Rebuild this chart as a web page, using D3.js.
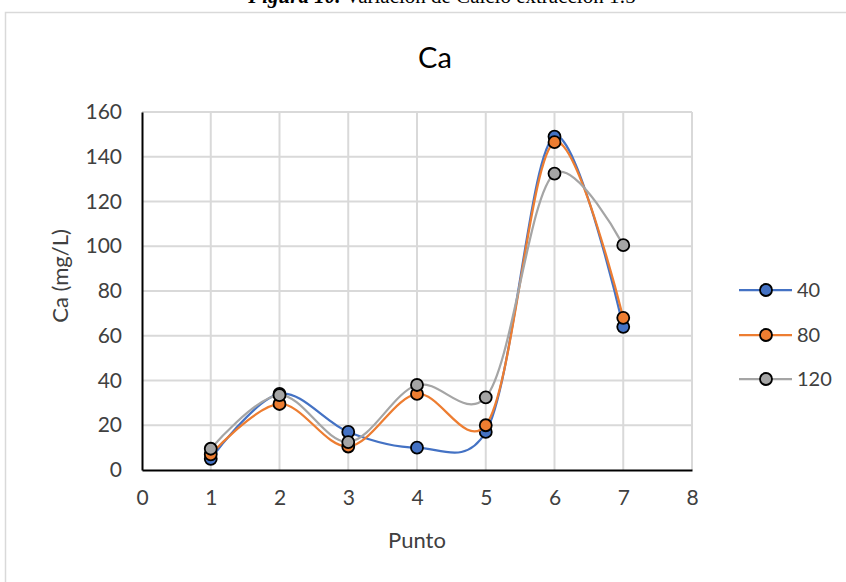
<!DOCTYPE html>
<html>
<head>
<meta charset="utf-8">
<script src="https://cdn.jsdelivr.net/npm/d3@7"></script>
<style>
    body { margin: 0; background: #fff; }
    svg { display: block; font-family: Lato, "Open Sans", sans-serif; }
</style>
</head>
<body>
<div id="chart"></div>
<script>
// Ca data (Excel scatter, smoothed lines)
const puntos = [1, 2, 3, 4, 5, 6, 7];
const seriesNames = ['40', '80', '120'];
const ca40 = [5, 34, 17, 10, 17, 149, 64];
const ca80 = [7, 29.5, 10.5, 34, 20, 146.5, 68];
const ca120 = [9.5, 33.5, 12.5, 38, 32.5, 132.5, 100.5];
const xTicks = [0, 1, 2, 3, 4, 5, 6, 7, 8];
const yTicks = [0, 20, 40, 60, 80, 100, 120, 140, 160];
const colors = ['#4472c4', '#ed7d31', '#a5a5a5'];

const width = 846, height = 582;
const margin = {top: 112, left: 142, right: 154, bottom: 112};

const svg = d3.select('#chart').append('svg')
    .attr('width', width)
    .attr('height', height);

// caption of the document, cut off at the top of the picture
const caption = svg.append('text')
    .attr('x', 442)
    .attr('y', 3)
    .attr('text-anchor', 'middle')
    .style('font-family', '"Liberation Serif", "Times New Roman", serif')
    .style('font-size', '21px');
caption.append('tspan').style('font-weight', 'bold').style('font-style', 'italic').text('Figura 10.');
caption.append('tspan').text(' Variación de Calcio extracción 1:5');

// chart frame
svg.append('rect')
    .attr('x', 5.5)
    .attr('y', 12.5)
    .attr('width', 900)
    .attr('height', 700)
    .attr('fill', 'none')
    .attr('stroke', '#d9d9d9')
    .attr('stroke-width', 1.5);

let xScale = d3.scaleLinear()
    .domain([0, 8])
    .range([margin.left, width - margin.right]);

let yScale = d3.scaleLinear()
    .domain([0, 160])
    .range([470, margin.top]);

// gridlines
svg.append('g')
    .selectAll('line.hgrid')
    .data(yTicks.slice(1))
    .enter().append('line')
    .attr('x1', xScale(0))
    .attr('x2', xScale(8))
    .attr('y1', d => yScale(d))
    .attr('y2', d => yScale(d))
    .attr('stroke', '#d9d9d9')
    .attr('stroke-width', 2);

svg.append('g')
    .selectAll('line.vgrid')
    .data(xTicks.slice(1))
    .enter().append('line')
    .attr('x1', d => xScale(d))
    .attr('x2', d => xScale(d))
    .attr('y1', yScale(0))
    .attr('y2', yScale(160))
    .attr('stroke', '#d9d9d9')
    .attr('stroke-width', 2);

// axes
let xAxis = d3.axisBottom(xScale).tickValues(xTicks).tickSize(0).tickPadding(20);
let yAxis = d3.axisLeft(yScale).tickValues(yTicks).tickSize(0).tickPadding(20);

let gx = svg.append('g')
    .attr('transform', 'translate(0,' + yScale(0) + ')')
    .call(xAxis);
let gy = svg.append('g')
    .attr('transform', 'translate(' + xScale(0) + ',0)')
    .call(yAxis);

[gx, gy].forEach(g => {
    g.select('.domain').attr('stroke', '#000').attr('stroke-width', 2);
    g.selectAll('text')
        .style('font-family', 'Lato, sans-serif')
        .style('font-size', '21px')
        .attr('fill', '#404040');
});
gx.selectAll('text').attr('dy', '0.71em');

// titles
svg.append('text')
    .attr('x', 435)
    .attr('y', 68)
    .attr('text-anchor', 'middle')
    .style('font-size', '29px')
    .attr('fill', '#000')
    .text('Ca');

svg.append('text')
    .attr('x', xScale(4))
    .attr('y', 548)
    .attr('text-anchor', 'middle')
    .style('font-size', '22px')
    .attr('fill', '#404040')
    .text('Punto');

svg.append('text')
    .attr('transform', 'translate(68,276) rotate(-90)')
    .attr('text-anchor', 'middle')
    .style('font-size', '22px')
    .attr('fill', '#404040')
    .text('Ca (mg/L)');

// series
let seriesData = [ca40, ca80, ca120].map((vals, i) => ({
    name: seriesNames[i],
    color: colors[i],
    points: puntos.map((p, j) => ({x: p, y: vals[j]}))
}));

// somewhere between uniform and centripetal catmull-rom looks closest to excel smoothing
let line = d3.line()
    .x(d => xScale(d.x))
    .y(d => yScale(d.y))
    .curve(d3.curveCatmullRom.alpha(0.2));

let groups = svg.selectAll('g.series')
    .data(seriesData)
    .enter().append('g')
    .classed('series', true);

groups.append('path')
    .attr('d', d => line(d.points))
    .attr('fill', 'none')
    .attr('stroke', d => d.color)
    .attr('stroke-width', 2.25);

groups.selectAll('circle')
    .data(d => d.points.map(p => ({...p, color: d.color})))
    .enter().append('circle')
    .attr('cx', d => xScale(d.x))
    .attr('cy', d => yScale(d.y))
    .attr('r', 6)
    .attr('fill', d => d.color)
    .attr('stroke', '#000')
    .attr('stroke-width', 1.8);

// legend
let legendY = [290, 335, 379];
let legend = svg.selectAll('g.legend')
    .data(seriesData)
    .enter().append('g')
    .classed('legend', true)
    .attr('transform', (d, i) => 'translate(0,' + legendY[i] + ')');

legend.append('line')
    .attr('x1', 739)
    .attr('x2', 792)
    .attr('stroke', d => d.color)
    .attr('stroke-width', 2.25);

legend.append('circle')
    .attr('cx', 766)
    .attr('r', 6)
    .attr('fill', d => d.color)
    .attr('stroke', '#000')
    .attr('stroke-width', 1.8);

legend.append('text')
    .attr('x', 797)
    .attr('dy', '0.36em')
    .style('font-size', '20px')
    .attr('fill', '#404040')
    .text(d => d.name);
</script>
</body>
</html>
